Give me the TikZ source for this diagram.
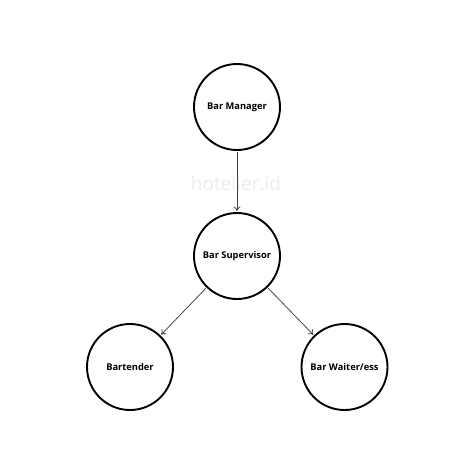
\documentclass[tikz,border=0pt]{standalone}
\usepackage{fontspec}
\setmainfont{Open Sans}
\usetikzlibrary{arrows.meta}
\begin{document}
\begin{tikzpicture}[x=1pt,y=-1pt,
  role/.style={circle,draw=black,line width=1.9pt,minimum size=86pt,inner sep=0pt,font=\fontsize{9.3}{11}\selectfont\bfseries},
  link/.style={draw=black!75,line width=0.75pt,-{To[length=4.5pt,width=7pt]},shorten <=1pt,shorten >=1pt}]
\useasboundingbox[fill=white] (0,0) rectangle (474,474);
\node[text=black!7,font=\fontsize{19}{22}\selectfont] (wm) at (236,183) {hotelier.id};
\node[role] (mgr) at (237,107) {Bar Manager};
\node[role] (sup) at (237,256) {Bar Supervisor};
\node[role] (bt) at (130,367) {Bartender};
\node[role] (bw) at (344.5,367) {Bar Waiter/ess};
\draw[link] (mgr) -- (sup);
\draw[link] (sup) -- (bt);
\draw[link] (sup) -- (bw);
\end{tikzpicture}
\end{document}
